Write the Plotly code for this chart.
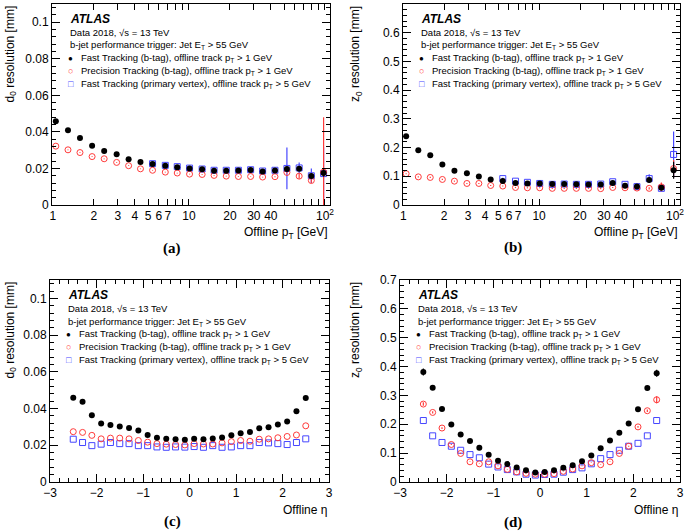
import plotly.graph_objects as go

W = 685
H = 532

# offline track pT bin centres [GeV]
pt_bins = [1.05, 1.29, 1.58, 1.94, 2.38, 2.94, 3.6, 4.4, 5.4, 6.7, 8.2, 10.1,
           12.5, 15.3, 18.8, 23.1, 28.4, 34.8, 42.9, 52.5, 64.6, 79.4, 97.7]
pt_bins_pv = pt_bins[8:]  # primary vertex tracking only for pT > 5 GeV

# offline eta bin centres
eta_bins = [-2.5, -2.3, -2.1, -1.9, -1.7, -1.5, -1.3, -1.1, -0.9, -0.7, -0.5, -0.3, -0.1,
            0.1, 0.3, 0.5, 0.7, 0.9, 1.1, 1.3, 1.5, 1.7, 1.9, 2.1, 2.3, 2.5]

# (a) d0 resolution vs pT [mm]
d0_pt_fast = [0.0458, 0.0409, 0.0367, 0.0324, 0.0296, 0.0278, 0.0251, 0.0235, 0.0224, 0.0215,
              0.0207, 0.0200, 0.0195, 0.0187, 0.0187, 0.0189, 0.0191, 0.0184, 0.0189, 0.0197,
              0.0199, 0.0159, 0.0175]
d0_pt_fast_err = [0.0003, 0.0003, 0.0003, 0.0003, 0.0003, 0.0003, 0.0003, 0.0003, 0.0003, 0.0003,
                  0.0003, 0.0003, 0.0003, 0.0003, 0.0003, 0.0003, 0.0003, 0.0003, 0.0004, 0.0008,
                  0.0010, 0.0012, 0.0020]
d0_pt_prec = [0.0322, 0.0302, 0.0287, 0.0265, 0.0253, 0.0233, 0.0215, 0.0198, 0.0190, 0.0180,
              0.0175, 0.0169, 0.0167, 0.0162, 0.0158, 0.0156, 0.0156, 0.0153, 0.0155, 0.0178,
              0.0158, 0.0134, 0.0180]
d0_pt_prec_err = [0.0002, 0.0002, 0.0002, 0.0002, 0.0002, 0.0002, 0.0002, 0.0002, 0.0002, 0.0002,
                  0.0002, 0.0002, 0.0002, 0.0002, 0.0002, 0.0002, 0.0002, 0.0002, 0.0003, 0.0006,
                  0.0015, 0.0012, 0.0300]
d0_pt_pv = [0.0226, 0.0217, 0.0210, 0.0202, 0.0197, 0.0190, 0.0190, 0.0190, 0.0193, 0.0186,
            0.0190, 0.0200, 0.0203, 0.0160, 0.0172]
d0_pt_pv_err = [0.0004, 0.0004, 0.0004, 0.0004, 0.0004, 0.0004, 0.0004, 0.0004, 0.0004, 0.0005,
                0.0006, 0.0114, 0.0030, 0.0040, 0.0144]

# (b) z0 resolution vs pT [mm]
z0_pt_fast = [0.239, 0.191, 0.173, 0.141, 0.119, 0.111, 0.099, 0.089, 0.084, 0.077, 0.075, 0.075,
              0.073, 0.073, 0.072, 0.071, 0.071, 0.077, 0.067, 0.064, 0.087, 0.060, 0.121]
z0_pt_fast_err = [0.002, 0.002, 0.002, 0.002, 0.002, 0.002, 0.002, 0.002, 0.002, 0.002, 0.002, 0.002,
                  0.002, 0.002, 0.002, 0.002, 0.002, 0.002, 0.003, 0.003, 0.008, 0.006, 0.030]
z0_pt_prec = [0.109, 0.098, 0.096, 0.089, 0.083, 0.075, 0.075, 0.068, 0.066, 0.061, 0.060, 0.060,
              0.058, 0.058, 0.058, 0.058, 0.057, 0.061, 0.060, 0.059, 0.058, 0.063, 0.127]
z0_pt_prec_err = [0.002, 0.002, 0.002, 0.002, 0.002, 0.002, 0.002, 0.002, 0.002, 0.002, 0.002, 0.002,
                  0.002, 0.002, 0.002, 0.002, 0.002, 0.002, 0.002, 0.003, 0.004, 0.015, 0.030]
z0_pt_pv = [0.092, 0.083, 0.079, 0.075, 0.072, 0.073, 0.072, 0.072, 0.073, 0.081, 0.072, 0.064,
            0.092, 0.058, 0.176]
z0_pt_pv_err = [0.003, 0.003, 0.003, 0.003, 0.003, 0.003, 0.003, 0.003, 0.003, 0.004, 0.004, 0.005,
                0.015, 0.010, 0.080]

# (c) d0 resolution vs eta [mm]
d0_eta_fast = [0.0459, 0.0437, 0.0363, 0.0319, 0.0311, 0.0302, 0.0294, 0.0281, 0.0256, 0.0241,
               0.0235, 0.0233, 0.0230, 0.0235, 0.0233, 0.0237, 0.0243, 0.0254, 0.0265, 0.0272,
               0.0293, 0.0298, 0.0313, 0.0330, 0.0385, 0.0457]
d0_eta_prec = [0.0274, 0.0270, 0.0254, 0.0235, 0.0239, 0.0239, 0.0235, 0.0226, 0.0217, 0.0209,
               0.0206, 0.0204, 0.0202, 0.0209, 0.0207, 0.0207, 0.0213, 0.0220, 0.0226, 0.0222,
               0.0233, 0.0235, 0.0241, 0.0248, 0.0256, 0.0306]
d0_eta_pv = [0.0233, 0.0215, 0.0198, 0.0206, 0.0215, 0.0209, 0.0209, 0.0198, 0.0198, 0.0191,
             0.0189, 0.0191, 0.0190, 0.0193, 0.0189, 0.0198, 0.0189, 0.0191, 0.0198, 0.0198,
             0.0215, 0.0213, 0.0209, 0.0204, 0.0215, 0.0235]

# (d) z0 resolution vs eta [mm]
z0_eta_fast = [0.381, 0.327, 0.253, 0.199, 0.165, 0.142, 0.119, 0.094, 0.074, 0.062, 0.050, 0.041,
               0.033, 0.035, 0.041, 0.049, 0.058, 0.072, 0.092, 0.117, 0.144, 0.171, 0.203, 0.252,
               0.326, 0.377]
z0_eta_fast_err = [0.012, 0.005, 0.003, 0.002, 0.002, 0.001, 0.001, 0.001, 0.001, 0.001, 0.001, 0.001,
                   0.001, 0.001, 0.001, 0.001, 0.001, 0.001, 0.001, 0.001, 0.001, 0.002, 0.002, 0.003,
                   0.005, 0.012]
z0_eta_prec = [0.270, 0.241, 0.187, 0.130, 0.099, 0.070, 0.063, 0.070, 0.056, 0.044, 0.035, 0.030,
               0.027, 0.027, 0.029, 0.037, 0.045, 0.056, 0.067, 0.060, 0.070, 0.099, 0.124, 0.191,
               0.247, 0.285]
z0_eta_prec_err = [0.006, 0.004, 0.003, 0.002, 0.002, 0.001, 0.001, 0.001, 0.001, 0.001, 0.001, 0.001,
                   0.001, 0.001, 0.001, 0.001, 0.001, 0.001, 0.001, 0.001, 0.001, 0.002, 0.002, 0.003,
                   0.004, 0.012]
z0_eta_pv = [0.213, 0.160, 0.137, 0.124, 0.110, 0.095, 0.084, 0.062, 0.052, 0.043, 0.035, 0.027,
             0.024, 0.026, 0.027, 0.034, 0.043, 0.049, 0.063, 0.081, 0.095, 0.110, 0.124, 0.134,
             0.160, 0.213]

legend_labels = ["Fast Tracking (b-tag), offline track p<sub>T</sub> > 1 GeV",
                 "Precision Tracking (b-tag), offline track p<sub>T</sub> > 1 GeV",
                 "Fast Tracking (primary vertex), offline track p<sub>T</sub> > 5 GeV"]
legend_symbols = ["\u25CF", "\u25CB", "\u25A1"]

BLACK = "#000000"
RED = "#ff3b3b"
BLUE = "#4646ff"
FONT = "Liberation Sans, Arial, sans-serif"

# panel boxes in pixels: left, right, top, bottom
panels = {
    "a": (52, 330, 4, 205),
    "b": (403, 680, 4, 205),
    "c": (50, 329, 280, 482),
    "d": (400, 680, 280, 482),
}


def px(x):
    return x / W


def py(y):
    return 1 - y / H


def marker(kind):
    if kind == 0:
        return dict(symbol="circle", size=6, color=BLACK)
    if kind == 1:
        return dict(symbol="circle-open", size=6, color=RED, line=dict(width=1, color=RED))
    return dict(symbol="square-open", size=6, color=BLUE, line=dict(width=1, color=BLUE))


colors = [BLACK, RED, BLUE]
fig = go.Figure()


def add_series(x, y, err, kind, xa, ya):
    ey = dict(type="data", array=err, thickness=1.2, width=0, color=colors[kind]) if err else None
    fig.add_trace(go.Scatter(x=x, y=y, mode="markers", marker=marker(kind), error_y=ey,
                             xaxis=xa, yaxis=ya, showlegend=False, hoverinfo="x+y",
                             cliponaxis=True))


# draw blue then red then black so black sits on top like the original
add_series(pt_bins_pv, d0_pt_pv, d0_pt_pv_err, 2, "x", "y")
add_series(pt_bins, d0_pt_prec, d0_pt_prec_err, 1, "x", "y")
add_series(pt_bins, d0_pt_fast, d0_pt_fast_err, 0, "x", "y")

add_series(pt_bins_pv, z0_pt_pv, z0_pt_pv_err, 2, "x2", "y2")
add_series(pt_bins, z0_pt_prec, z0_pt_prec_err, 1, "x2", "y2")
add_series(pt_bins, z0_pt_fast, z0_pt_fast_err, 0, "x2", "y2")

add_series(eta_bins, d0_eta_pv, None, 2, "x3", "y3")
add_series(eta_bins, d0_eta_prec, None, 1, "x3", "y3")
add_series(eta_bins, d0_eta_fast, None, 0, "x3", "y3")

add_series(eta_bins, z0_eta_pv, None, 2, "x4", "y4")
add_series(eta_bins, z0_eta_prec, z0_eta_prec_err, 1, "x4", "y4")
add_series(eta_bins, z0_eta_fast, z0_eta_fast_err, 0, "x4", "y4")

axis_common = dict(showline=True, linecolor="black", linewidth=1, mirror="allticks",
                   ticks="inside", tickcolor="black", tickwidth=1, showgrid=False,
                   zeroline=False, automargin=False,
                   tickfont=dict(family=FONT, size=12, color="black"))

log_major = [1, 2, 3, 4, 5, 6, 7, 10, 20, 30, 40, 100]
log_text = ["1", "2", "3", "4", "5", "6", "7", "10", "20", "30", "40", "10<sup>2</sup>"]
log_minor = [8, 9, 50, 60, 70, 80, 90]


def log_xaxis(box, anchor, lo):
    return dict(axis_common, type="log", domain=[px(box[0]), px(box[1])], anchor=anchor,
                range=[lo, 2.037], tickmode="array", tickvals=log_major, ticktext=log_text,
                ticklen=6, minor=dict(tickvals=log_minor, ticks="inside", ticklen=6,
                                      tickcolor="black", showgrid=False))


def lin_axis(box, anchor, rng, dtick, minor, horizontal):
    dom = [px(box[0]), px(box[1])] if horizontal else [py(box[3]), py(box[2])]
    return dict(axis_common, domain=dom, anchor=anchor, range=rng, dtick=dtick, tick0=0,
                ticklen=8, minor=dict(dtick=minor, tick0=0, ticks="inside", ticklen=4,
                                      tickcolor="black", showgrid=False))


fig.update_layout(
    width=W, height=H, margin=dict(l=0, r=0, t=0, b=0, autoexpand=False),
    template="none",
    paper_bgcolor="white", plot_bgcolor="white", showlegend=False,
    font=dict(family=FONT, color="black"),
    xaxis=log_xaxis(panels["a"], "y", -0.007),
    yaxis=lin_axis(panels["a"], "x", [0, 0.11], 0.02, 0.004, False),
    xaxis2=log_xaxis(panels["b"], "y2", -0.002),
    yaxis2=lin_axis(panels["b"], "x2", [0, 0.7], 0.1, 0.02, False),
    xaxis3=lin_axis(panels["c"], "y3", [-3, 3], 1, 0.2, True),
    yaxis3=lin_axis(panels["c"], "x3", [0, 0.11], 0.02, 0.004, False),
    xaxis4=lin_axis(panels["d"], "y4", [-3, 3], 1, 0.2, True),
    yaxis4=lin_axis(panels["d"], "x4", [0, 0.7], 0.1, 0.02, False),
)

ann = []


def text(x, y, s, size=9.5, xanchor="left", yanchor="middle", color="black", **kw):
    ann.append(dict(x=px(x), y=py(y), xref="paper", yref="paper", text=s, showarrow=False,
                    xanchor=xanchor, yanchor=yanchor, font=dict(family=FONT, size=size, color=color),
                    **kw))


ytitles = {"a": "d<sub>0</sub> resolution [mm]", "b": "z<sub>0</sub> resolution [mm]",
           "c": "d<sub>0</sub> resolution [mm]", "d": "z<sub>0</sub> resolution [mm]"}
xtitles = {"a": "Offline p<sub>T</sub> [GeV]", "b": "Offline p<sub>T</sub> [GeV]",
           "c": "Offline \u03b7", "d": "Offline \u03b7"}
tags = {"a": (172, 248), "b": (513, 247), "c": (172, 521), "d": (513, 522)}
ytitle_x = {"a": 10, "b": 356, "c": 10, "d": 356}

for key, (l, r, t, b) in panels.items():
    text(l + 15.5, t + 14.5, "<b><i>ATLAS</i></b>", size=12)
    text(l + 15.5, t + 28.3, "Data 2018, \u221As = 13 TeV")
    text(l + 15.5, t + 41.5, "b-jet performance trigger: Jet E<sub>T</sub> > 55 GeV")
    for i in range(3):
        yy = t + 54.3 + 13 * i
        text(l + 18.5, yy, legend_symbols[i], size=8 if i == 0 else 9, xanchor="center",
             color=colors[i])
        text(l + 27, yy, legend_labels[i])
    text(ytitle_x[key], t, ytitles[key], size=12, xanchor="center", yanchor="top", textangle=-90)
    text(r, b + 28, xtitles[key], size=12, xanchor="right")
    text(tags[key][0], tags[key][1], "<b>(%s)</b>" % key, size=15, xanchor="center")

# panel labels use a serif face
for a in ann:
    if a["text"].startswith("<b>("):
        a["font"]["family"] = "Liberation Serif, Times New Roman, serif"

fig.update_layout(annotations=ann)
# the page body has a default 8px margin; remove it so the figure fills the window
fig.write_html("out.html", config={"displayModeBar": False},
               post_script="document.body.style.margin='0';document.body.style.overflow='hidden';")
